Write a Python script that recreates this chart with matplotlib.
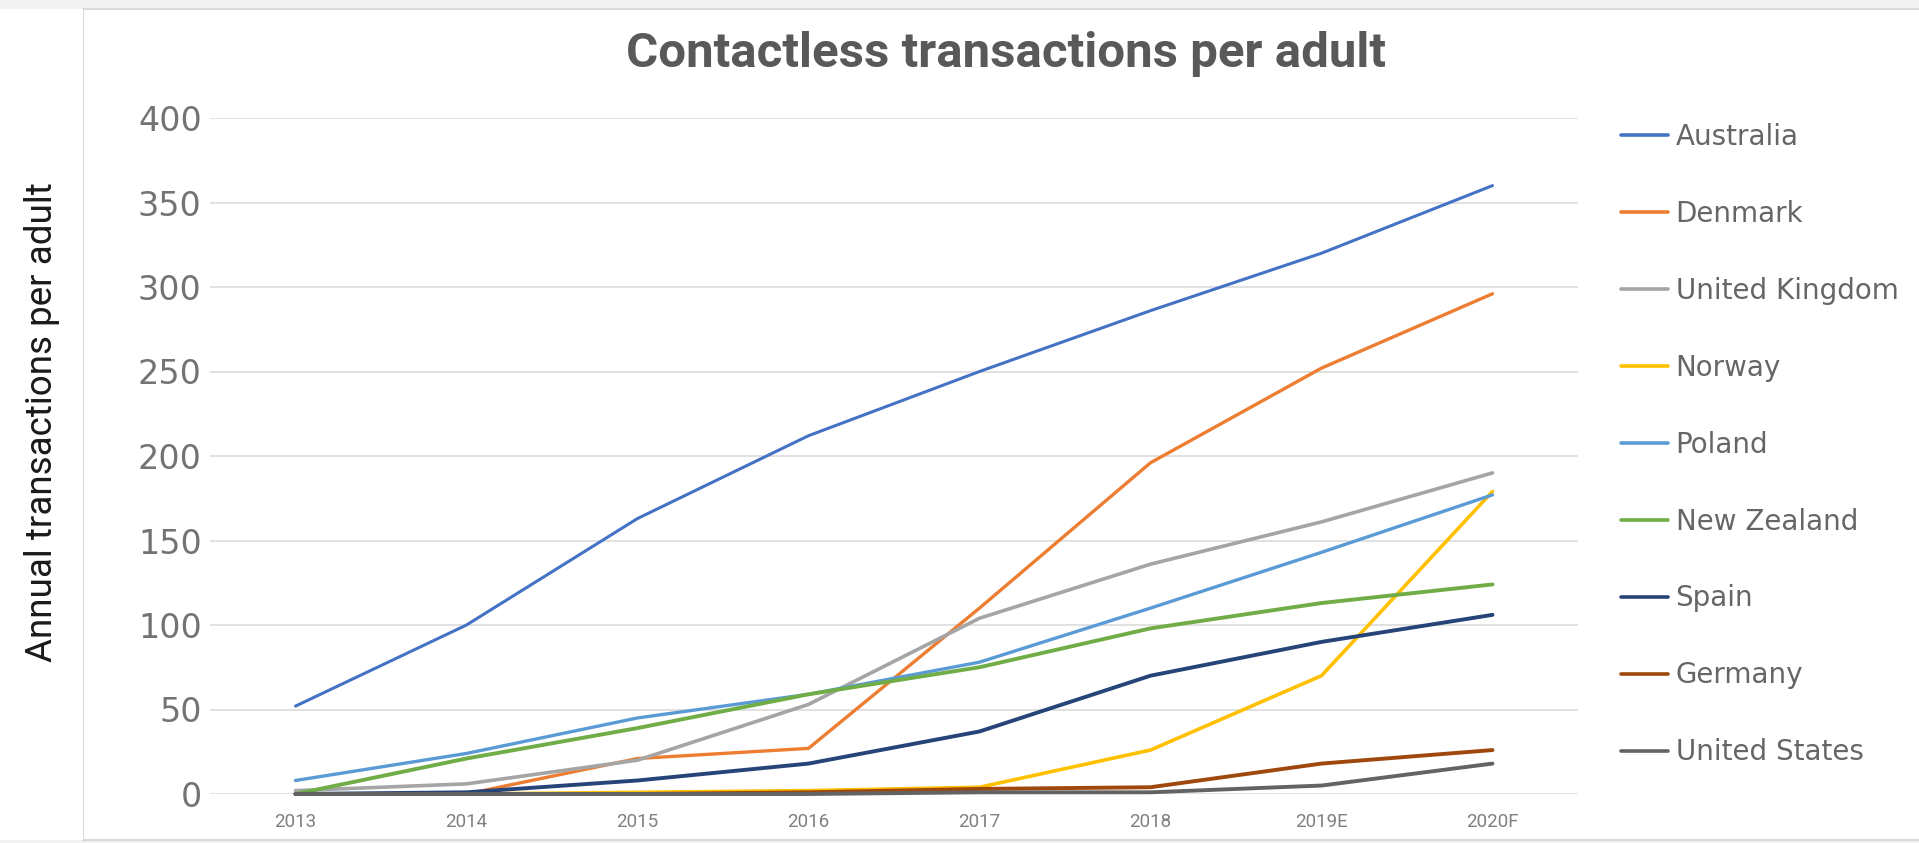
import matplotlib.pyplot as plt
from matplotlib.patches import Rectangle

# Contactless transactions per adult, by country
YEARS = ["2013", "2014", "2015", "2016", "2017", "2018", "2019E", "2020F"]
COUNTRIES = ["Australia", "Denmark", "United Kingdom", "Norway", "Poland",
             "New Zealand", "Spain", "Germany", "United States"]

australia = [52, 100, 163, 212, 250, 286, 320, 360]
denmark = [0, 0, 21, 27, 110, 196, 252, 296]
united_kingdom = [2, 6, 20, 53, 104, 136, 161, 190]
norway = [0, 0, 1, 2, 4, 26, 70, 179]
poland = [8, 24, 45, 59, 78, 110, 143, 177]
new_zealand = [0, 21, 39, 59, 75, 98, 113, 124]
spain = [0, 1, 8, 18, 37, 70, 90, 106]
germany = [0, 0, 0, 1, 3, 4, 18, 26]
united_states = [0, 0, 0, 0, 1, 1, 5, 18]

COLORS = ["#4472C4", "#ED7D31", "#A5A5A5", "#FFC000", "#5B9BD5",
          "#70AD47", "#264478", "#9E480E", "#636363"]
WIDTHS = [2.2, 2.4, 2.6, 2.6, 2.4, 2.8, 2.8, 2.8, 2.8]

CONDENSED = ["Roboto", "DejaVu Sans"]
series = [australia, denmark, united_kingdom, norway, poland,
          new_zealand, spain, germany, united_states]

W, H = 1919, 843
fig = plt.figure(figsize=(W / 100, H / 100), dpi=100)

# chart frame and the grey bands around it
fig.patches.append(Rectangle((0, 0), 1, 1, transform=fig.transFigure,
                             facecolor="#f2f2f2", edgecolor="none", zorder=-3))
fig.patches.append(Rectangle((83 / W, 3 / H), 1.0, (834 - 3) / H,
                             transform=fig.transFigure, facecolor="white",
                             edgecolor="#d9d9d9", linewidth=1.5, zorder=-2))
fig.patches.append(Rectangle((0, 3 / H), 83 / W, (834 - 3) / H,
                             transform=fig.transFigure, facecolor="white",
                             edgecolor="none", zorder=-2))

ax = fig.add_axes([210 / W, (H - 794) / H, 1368 / W, 676 / H])
ax.set_facecolor("none")

x = list(range(len(YEARS)))
for name, values, color, lw in zip(COUNTRIES, series, COLORS, WIDTHS):
    ax.plot(x, values, color=color, linewidth=lw, label=name,
            solid_capstyle="round", clip_on=False, zorder=3)

ax.set_xlim(-0.5, len(YEARS) - 0.5)
ax.set_ylim(0, 400)
ax.set_yticks(range(0, 401, 50))
ax.set_xticks(x)
ax.set_xticklabels(YEARS, family=CONDENSED, fontsize=13.5, color="#808080")
ax.tick_params(axis="x", length=0, pad=14)
ax.tick_params(axis="y", length=0, pad=6, labelsize=24, labelcolor="#737373")
ax.grid(True, axis="y", color="#dedede", linewidth=1.3, zorder=0)
ax.set_axisbelow(True)
for spine in ax.spines.values():
    spine.set_visible(False)

fig.text(1006 / W, 1 - 54 / H, "Contactless transactions per adult",
         ha="center", va="center", fontsize=35.5, fontweight="bold",
         family=CONDENSED, color="#595959")
fig.text(42 / W, 1 - 422 / H, "Annual transactions per adult",
         ha="center", va="center", rotation=90, fontsize=26.5,
         family=CONDENSED, color="#1a1a1a")

leg = fig.legend(loc="upper left", bbox_to_anchor=(1610 / W, 1 - 112 / H),
                 frameon=False, fontsize=20, handlelength=1.7,
                 handletextpad=0.26, labelspacing=1.76, borderaxespad=0)
for text in leg.get_texts():
    text.set_color("#666666")
for line in leg.get_lines():
    line.set_linewidth(2.6)

fig.savefig("out.png", dpi=100)
